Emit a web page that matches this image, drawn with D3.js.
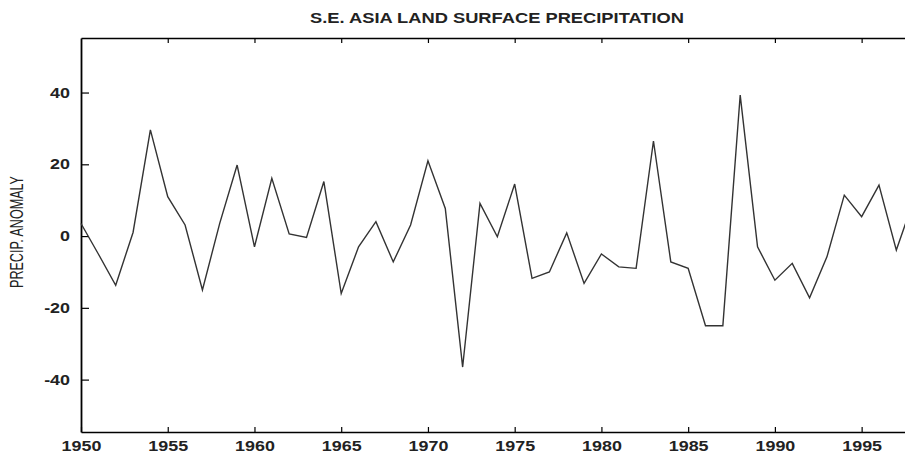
<!DOCTYPE html>
<html lang="en">
<head>
  <meta charset="UTF-8">
  <title>S.E. Asia land surface precipitation</title>
  <style>
    body { margin: 0; background: #fff; }
    text { font-family: 'Liberation Sans', Helvetica, Arial, sans-serif; fill: #222; }
  </style>
</head>
<body>
  <svg id="svg" width="905" height="453"></svg>

  <script src="https://d3js.org/d3.v7.min.js"></script>
  <script>
    // anomaly per year (1998 runs past the right edge)
    const years = [1950, 1951, 1952, 1953, 1954, 1955, 1956, 1957, 1958, 1959,
      1960, 1961, 1962, 1963, 1964, 1965, 1966, 1967, 1968, 1969,
      1970, 1971, 1972, 1973, 1974, 1975, 1976, 1977, 1978, 1979,
      1980, 1981, 1982, 1983, 1984, 1985, 1986, 1987, 1988, 1989,
      1990, 1991, 1992, 1993, 1994, 1995, 1996, 1997, 1998]
    const anomaly = [3.5, -5, -13.7, 1, 29.6, 11, 3.1, -15, 3.6, 19.8,
      -3, 16.1, 0.6, -0.4, 15.2, -16, -3, 4, -7.2, 3.1,
      21, 7.7, -36.5, 9.1, -0.2, 14.5, -11.8, -10, 0.9, -13.2,
      -5, -8.6, -9, 26.5, -7.2, -9, -25, -25, 39.3, -3,
      -12.3, -7.6, -17.2, -5.8, 11.4, 5.4, 14.2, -3.9, 10]
    const xTicks = [1950, 1955, 1960, 1965, 1970, 1975, 1980, 1985, 1990, 1995]
    const yTicks = [-40, -20, 0, 20, 40]

    const plotLeft = 81, plotRight = 905, plotTop = 38, plotBottom = 432
    const sx = 1.28 // the scan is stretched sideways, so are the letters

    const svg = d3.select('#svg')

    const xScale = d3.scaleLinear()
      .domain([1950, 1997.5])
      .range([plotLeft, plotRight])

    const yScale = d3.scaleLinear()
      .domain([-54.6, 55.2])
      .range([plotBottom, plotTop])

    // bottom axis, ticks point inward
    svg.append('g')
      .attr('transform', `translate(0,${plotBottom})`)
      .call(d3.axisBottom(xScale).tickValues(xTicks).tickFormat(d => String(d))
        .tickSize(-5).tickSizeOuter(0).tickPadding(9))
      .call(g => g.select('.domain').attr('stroke-width', 1.6))
      .call(g => g.selectAll('.tick line').attr('stroke-width', 1.2))
      .call(g => g.selectAll('text')
        .attr('transform', `scale(${sx},1)`)
        .style('font-size', '14px').style('font-weight', 'bold'))

    // top edge with the same ticks, no labels
    svg.append('g')
      .attr('transform', `translate(0,${plotTop})`)
      .call(d3.axisTop(xScale).tickValues(xTicks.slice(1)).tickFormat('')
        .tickSize(-5).tickSizeOuter(0))
      .call(g => g.select('.domain').attr('stroke-width', 1.6))
      .call(g => g.selectAll('.tick line').attr('stroke-width', 1.2))

    // left axis, plain hyphen for the minus
    svg.append('g')
      .attr('transform', `translate(${plotLeft},0)`)
      .call(d3.axisLeft(yScale).tickValues(yTicks).tickFormat(d => String(d))
        .tickSize(-8).tickSizeOuter(0).tickPadding(11 / sx))
      .call(g => g.select('.domain').attr('stroke-width', 1.8))
      .call(g => g.selectAll('.tick line').attr('stroke-width', 1.2))
      .call(g => g.selectAll('text')
        .attr('transform', `scale(${sx},1)`)
        .style('font-size', '14px').style('font-weight', 'bold'))

    const line = d3.line()
      .x((d, i) => xScale(years[i]))
      .y(d => yScale(d))

    svg.append('path')
      .datum(anomaly)
      .attr('d', line)
      .attr('fill', 'none')
      .attr('stroke', '#333')
      .attr('stroke-width', 1.4)
      .attr('stroke-linejoin', 'miter')

    // title
    svg.append('text')
      .attr('x', 310)
      .attr('y', 23)
      .attr('textLength', 374)
      .attr('lengthAdjust', 'spacingAndGlyphs')
      .style('font-size', '14px')
      .style('font-weight', 'bold')
      .text('S.E. ASIA LAND SURFACE PRECIPITATION')

    // y label
    svg.append('text')
      .attr('transform', `translate(23,232) rotate(-90)`)
      .attr('text-anchor', 'middle')
      .attr('textLength', 112)
      .attr('lengthAdjust', 'spacingAndGlyphs')
      .style('font-size', '18px')
      .text('PRECIP. ANOMALY')
  </script>
</body>
</html>
